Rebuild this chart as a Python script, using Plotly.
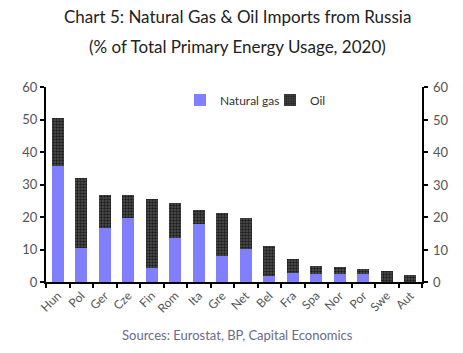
import plotly.graph_objects as go

countries = ["Hun", "Pol", "Ger", "Cze", "Fin", "Rom", "Ita", "Gre", "Net",
             "Bel", "Fra", "Spa", "Nor", "Por", "Swe", "Aut"]
gas = [35.7, 10.4, 16.6, 19.7, 4.2, 13.5, 17.8, 7.9, 10.1, 1.8, 2.8, 2.5, 2.5, 2.5, 0.0, 0.0]
total = [50.4, 31.9, 26.7, 26.7, 25.5, 24.2, 22.3, 21.1, 19.6, 11.0, 7.0, 4.8, 4.5, 3.9, 3.3, 2.1]
oil = [round(t - g, 2) for t, g in zip(total, gas)]
y_ticks = [0, 10, 20, 30, 40, 50, 60]

GAS_COLOR = "#8080ff"
OIL_COLOR = "#444444"
FONT = "Lato, 'DejaVu Sans', sans-serif"
TICK_COLOR = "#555555"

W, H = 463, 353
ML, MR, MT, MB = 46, 41, 87, 71
plot_w = W - ML - MR
plot_h = H - MT - MB

fig = go.Figure()
fig.add_trace(go.Bar(x=countries, y=gas, name="Natural gas",
                     marker=dict(color=GAS_COLOR, line=dict(width=0))))
fig.add_trace(go.Bar(x=countries, y=oil, name="Oil",
                     marker=dict(color=OIL_COLOR, line=dict(width=0),
                                 pattern=dict(shape=".", fgcolor="#1e1e1e",
                                              bgcolor="#505050", size=3, solidity=0.5))))

fig.update_layout(
    template="none",
    barmode="stack",
    bargap=0.48,
    width=W, height=H,
    margin=dict(l=ML, r=MR, t=MT, b=MB),
    paper_bgcolor="white", plot_bgcolor="white",
    font=dict(family=FONT, color="#333333"),
    showlegend=True,
    legend=dict(orientation="h", x=(180 - ML) / plot_w, y=(H - MB - 100) / plot_h,
                xanchor="left", yanchor="middle",
                font=dict(size=12, color="#333333"), bgcolor="rgba(0,0,0,0)",
                borderwidth=0, itemwidth=30, entrywidth=45, traceorder="normal"),
    xaxis=dict(showline=True, linecolor="black", linewidth=2, ticks="outside",
               tickson="boundaries", ticklen=4, tickcolor="black", tickwidth=2,
               tickangle=-45, tickfont=dict(size=12, color=TICK_COLOR),
               showgrid=False, zeroline=False, mirror=False),
    yaxis=dict(range=[0, 60], tickvals=y_ticks, showline=True, linecolor="black",
               linewidth=2, ticks="outside", ticklen=4, tickcolor="black", tickwidth=2,
               mirror="ticks",
               showgrid=False, zeroline=False, tickfont=dict(size=13, color=TICK_COLOR)),
)

# right-hand tick labels (the mirrored axis draws the line and ticks)
for v in y_ticks:
    fig.add_annotation(text=str(v), x=1, y=v, xref="paper", yref="y",
                       xanchor="left", yanchor="middle", xshift=9,
                       showarrow=False, font=dict(size=13, color=TICK_COLOR, family=FONT))

texts = [
    ("Chart 5: Natural Gas & Oil Imports from Russia", 17, 17, "#222222"),
    ("(% of Total Primary Energy Usage, 2020)", 46, 17, "#222222"),
    ("Sources: Eurostat, BP, Capital Economics", 335, 13, "#6a6a8c"),
]
for txt, py, size, col in texts:
    fig.add_annotation(text=txt, x=(237 - ML) / plot_w, y=(H - MB - py) / plot_h,
                       xref="paper", yref="paper", showarrow=False,
                       xanchor="center", yanchor="middle",
                       font=dict(size=size, color=col, family=FONT))

fig.write_html("out.html")
